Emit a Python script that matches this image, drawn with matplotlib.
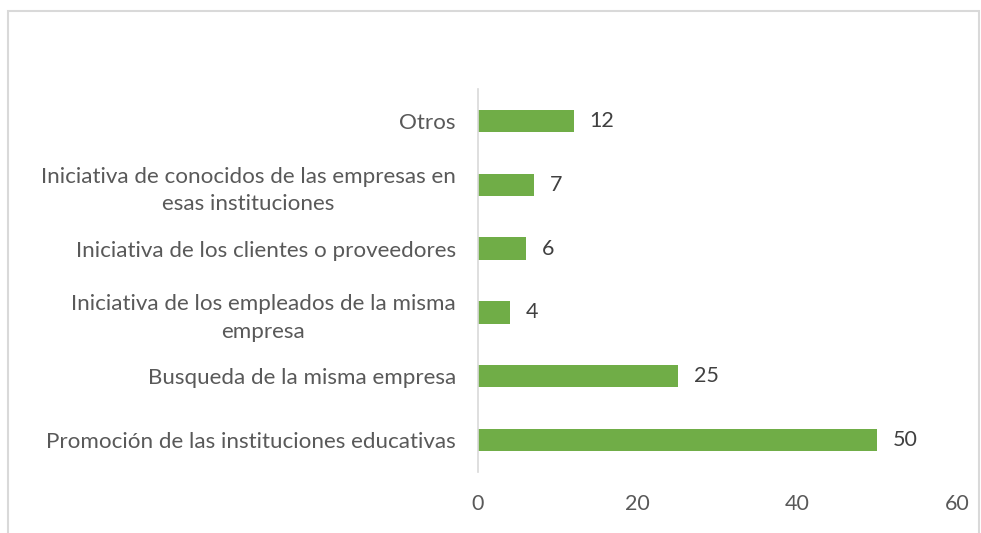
import matplotlib
matplotlib.use("Agg")
import matplotlib.pyplot as plt
from matplotlib.patches import Rectangle

categories = [
    "Promoción de las instituciones educativas",
    "Busqueda de la misma empresa",
    "Iniciativa de los empleados de la misma\nempresa",
    "Iniciativa de los clientes o proveedores",
    "Iniciativa de conocidos de las empresas en\nesas instituciones",
    "Otros",
]
values = [50, 25, 4, 6, 7, 12]
xticks = [0, 20, 40, 60]

plt.rcParams['font.family'] = ['Lato', 'DejaVu Sans']
FS = 16.1
FSN = 15.5
fig = plt.figure(figsize=(9.81, 5.33), dpi=100)
ax = fig.add_axes([478/981, (533-472)/533, (957-478)/981, (472-89)/533])

ypos = list(range(len(categories)))
ax.barh(ypos, values, height=0.35, color="#70AD47")
for y, v in zip(ypos, values):
    ax.text(v + 2.0, y, str(v), va="center", ha="left", fontsize=FSN, color="#404040")

ax.set_xlim(0, 60)
ax.set_ylim(-0.5, len(categories) - 0.5)
ax.set_yticks(ypos)
ax.set_yticklabels(categories, fontsize=FS, color="#595959")
ax.set_xticks(xticks)
ax.set_xticklabels([str(t) for t in xticks], fontsize=FSN, color="#595959")
for lab in ax.get_yticklabels():
    lab.set_multialignment("center")
    lab.set_linespacing(1.45)
ax.tick_params(axis="y", length=0, pad=16)
ax.tick_params(axis="x", length=0, pad=16)
for s in ["top", "right", "bottom"]:
    ax.spines[s].set_visible(False)
ax.spines["left"].set_color("#D9D9D9")
ax.spines["left"].set_linewidth(1.2)

fig.patches.append(Rectangle((8/981, -0.1), (979-8)/981, 1.1 - 11/533,
                             transform=fig.transFigure, fill=False,
                             edgecolor="#D9D9D9", linewidth=1.5))
fig.savefig("out.png", dpi=100)
